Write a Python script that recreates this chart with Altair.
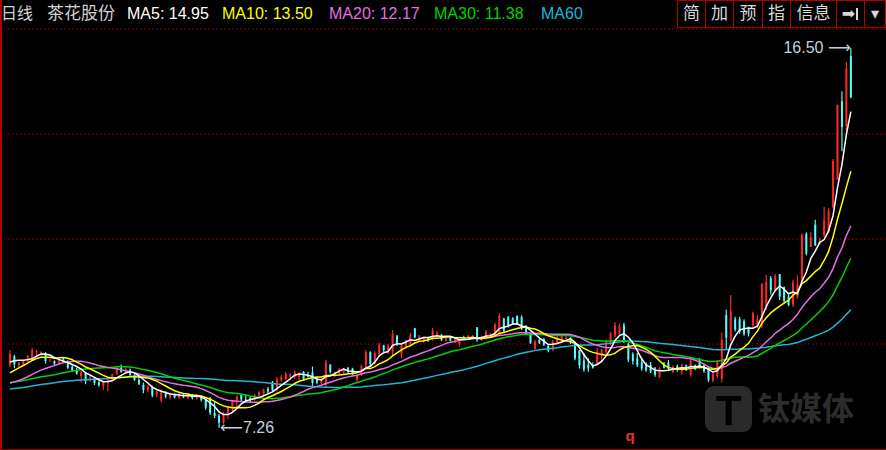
import altair as alt
import pandas as pd

# ---- daily bars for 茶花股份 (oldest first) ----
# closes of the sessions before the visible window, only used to seed the moving averages
warmup_close = [
    8.10, 8.05, 7.98, 7.95, 8.02, 8.08, 8.12, 8.06, 8.00, 7.96,
    7.92, 7.98, 8.04, 8.10, 8.15, 8.08, 8.02, 7.98, 8.00, 8.05,
    8.10, 8.12, 8.08, 8.04, 8.00, 8.02, 8.06, 8.10, 8.12, 8.14,
    8.20, 8.28, 8.35, 8.42, 8.48, 8.45, 8.40, 8.38, 8.42, 8.32,
    8.22, 8.15, 8.08, 8.02, 7.98, 8.05, 8.10, 8.12, 8.15, 8.13,
    8.18, 8.25, 8.30, 8.40, 8.52, 8.65, 8.78, 8.90, 8.91,
]

open_px = [
    8.78, 9.00, 8.78, 8.82, 8.88, 8.95, 9.10, 9.08, 9.08, 8.90,
    8.88, 8.84, 8.92, 8.88, 8.74, 8.66, 8.52, 8.60, 8.45, 8.46,
    8.36, 8.28, 8.35, 8.44, 8.58, 8.72, 8.65, 8.66, 8.54, 8.42,
    8.30, 8.18, 8.25, 8.06, 7.92, 8.10, 8.00, 8.08, 7.99, 8.06,
    8.00, 8.06, 7.98, 8.02, 7.95, 7.98, 7.62, 7.55, 7.38, 7.58,
    7.75, 7.90, 8.05, 7.95, 7.98, 7.94, 8.04, 8.10, 8.20, 8.36,
    8.18, 8.42, 8.44, 8.52, 8.50, 8.50, 8.62, 8.55, 8.60, 8.45,
    8.36, 8.30, 8.80, 8.55, 8.58, 8.62, 8.72, 8.70, 8.42, 8.55,
    8.78, 9.10, 8.85, 9.05, 9.26, 9.15, 9.10, 9.50, 9.05, 9.22,
    9.30, 9.68, 9.38, 9.40, 9.45, 9.40, 9.52, 9.52, 9.38, 9.48,
    9.34, 9.30, 9.45, 9.45, 9.42, 9.70, 9.40, 9.42, 9.50, 9.50,
    9.55, 9.92, 9.95, 9.92, 9.98, 9.95, 9.72, 9.55, 9.18, 9.40,
    9.42, 9.25, 9.15, 9.32, 9.40, 9.42, 9.45, 9.30, 9.15, 8.90,
    8.80, 8.78, 8.80, 9.00, 9.10, 9.30, 9.50, 9.55, 9.75, 9.30,
    9.05, 8.95, 8.85, 8.80, 8.78, 8.70, 8.50, 8.82, 8.85, 8.62,
    8.76, 8.62, 8.78, 8.55, 8.78, 8.90, 8.78, 8.72, 8.40, 8.52,
    8.45, 10.00, 9.40, 9.90, 9.90, 9.85, 9.70, 9.76, 9.72, 9.75,
    10.20, 10.90, 10.62, 11.00, 10.68, 10.45, 10.25, 10.45, 10.80, 11.98,
    11.66, 12.20, 11.75, 11.95, 12.02, 12.63, 13.30, 15.20, 14.60, 16.30,
]

high_px = [
    9.15, 9.03, 8.86, 8.91, 9.03, 9.20, 9.15, 9.12, 9.10, 8.95,
    8.90, 8.95, 8.96, 8.90, 8.78, 8.72, 8.65, 8.62, 8.52, 8.50,
    8.45, 8.40, 8.45, 8.58, 8.75, 8.80, 8.72, 8.70, 8.58, 8.48,
    8.36, 8.30, 8.28, 8.18, 8.20, 8.14, 8.12, 8.10, 8.12, 8.09,
    8.10, 8.08, 8.06, 8.04, 7.98, 8.01, 7.90, 7.60, 7.65, 7.78,
    7.92, 8.05, 8.10, 8.06, 8.02, 8.08, 8.15, 8.22, 8.25, 8.40,
    8.50, 8.55, 8.62, 8.60, 8.66, 8.62, 8.64, 8.62, 8.75, 8.50,
    8.48, 8.91, 8.80, 8.62, 8.72, 8.72, 8.74, 8.72, 8.55, 8.80,
    9.15, 9.12, 9.12, 9.32, 9.28, 9.30, 9.64, 9.52, 9.30, 9.40,
    9.57, 9.69, 9.52, 9.48, 9.47, 9.69, 9.60, 9.54, 9.50, 9.49,
    9.43, 9.43, 9.50, 9.52, 9.52, 9.71, 9.50, 9.64, 9.57, 9.81,
    10.04, 9.93, 9.98, 9.95, 10.00, 10.00, 9.76, 9.57, 9.40, 9.45,
    9.45, 9.30, 9.40, 9.50, 9.52, 9.50, 9.46, 9.32, 9.15, 9.08,
    8.95, 8.85, 9.20, 9.18, 9.40, 9.59, 9.83, 9.80, 9.81, 9.32,
    9.10, 9.08, 8.95, 8.85, 8.86, 8.74, 8.74, 8.86, 8.91, 8.78,
    8.80, 8.82, 8.80, 8.96, 8.80, 8.96, 8.82, 8.74, 8.62, 8.91,
    9.57, 10.13, 10.49, 9.96, 9.96, 9.90, 9.72, 10.08, 10.00, 10.78,
    10.98, 10.95, 11.00, 11.00, 10.70, 10.50, 10.86, 10.97, 11.99, 12.02,
    12.02, 12.32, 11.88, 12.63, 12.61, 13.80, 15.12, 15.45, 16.16, 16.50,
]

low_px = [
    8.74, 8.71, 8.74, 8.78, 8.84, 8.91, 8.98, 9.00, 8.82, 8.86,
    8.78, 8.80, 8.85, 8.69, 8.62, 8.55, 8.36, 8.32, 8.38, 8.30,
    8.26, 8.18, 8.15, 8.40, 8.55, 8.60, 8.58, 8.52, 8.40, 8.30,
    8.10, 8.12, 8.00, 8.00, 7.88, 7.98, 7.95, 7.97, 7.96, 7.98,
    7.96, 7.95, 7.94, 7.90, 7.70, 7.57, 7.50, 7.26, 7.35, 7.48,
    7.65, 7.75, 7.90, 7.88, 7.88, 7.92, 8.00, 8.06, 8.08, 8.14,
    8.15, 8.38, 8.42, 8.42, 8.45, 8.42, 8.40, 8.48, 8.28, 8.32,
    8.32, 8.25, 8.58, 8.48, 8.55, 8.55, 8.58, 8.55, 8.35, 8.52,
    8.74, 8.76, 8.80, 8.98, 9.10, 9.05, 9.03, 9.25, 8.95, 9.18,
    9.23, 9.44, 9.35, 9.33, 9.35, 9.38, 9.45, 9.37, 9.36, 9.36,
    9.33, 9.23, 9.40, 9.44, 9.40, 9.35, 9.38, 9.40, 9.48, 9.47,
    9.52, 9.57, 9.70, 9.78, 9.76, 9.64, 9.52, 9.30, 9.15, 9.30,
    9.25, 9.10, 9.12, 9.30, 9.38, 9.40, 9.30, 8.90, 8.70, 8.62,
    8.62, 8.70, 8.79, 8.88, 9.05, 9.27, 9.47, 9.50, 9.32, 8.86,
    8.80, 8.74, 8.65, 8.62, 8.59, 8.50, 8.47, 8.70, 8.66, 8.60,
    8.62, 8.55, 8.64, 8.50, 8.66, 8.70, 8.60, 8.37, 8.37, 8.47,
    8.37, 9.15, 9.35, 9.60, 9.55, 9.50, 9.48, 9.70, 9.68, 9.69,
    10.13, 10.50, 10.60, 10.37, 10.30, 10.22, 10.20, 10.40, 10.80, 11.46,
    11.66, 11.68, 11.72, 11.90, 12.00, 12.60, 13.29, 13.99, 14.50, 15.28,
]

close_px = [
    9.05, 8.80, 8.84, 8.90, 9.00, 9.15, 9.12, 9.10, 8.88, 8.90,
    8.82, 8.92, 8.88, 8.72, 8.65, 8.58, 8.62, 8.40, 8.47, 8.35,
    8.30, 8.38, 8.42, 8.56, 8.70, 8.62, 8.68, 8.55, 8.43, 8.33,
    8.18, 8.26, 8.05, 8.14, 8.12, 8.02, 8.08, 8.00, 8.07, 8.02,
    8.06, 7.98, 8.03, 7.94, 7.75, 7.62, 7.55, 7.38, 7.60, 7.75,
    7.90, 8.02, 7.95, 7.92, 7.93, 8.05, 8.12, 8.18, 8.14, 8.18,
    8.45, 8.50, 8.58, 8.55, 8.62, 8.58, 8.45, 8.50, 8.35, 8.36,
    8.45, 8.85, 8.62, 8.60, 8.68, 8.70, 8.62, 8.58, 8.52, 8.76,
    9.10, 8.82, 9.08, 9.28, 9.15, 9.25, 9.55, 9.30, 9.25, 9.38,
    9.52, 9.46, 9.48, 9.45, 9.38, 9.62, 9.56, 9.40, 9.46, 9.38,
    9.40, 9.38, 9.42, 9.50, 9.49, 9.40, 9.46, 9.60, 9.55, 9.78,
    9.98, 9.62, 9.75, 9.80, 9.80, 9.68, 9.55, 9.32, 9.36, 9.32,
    9.28, 9.14, 9.36, 9.45, 9.50, 9.46, 9.34, 8.95, 8.78, 8.68,
    8.70, 8.72, 9.12, 9.15, 9.35, 9.55, 9.75, 9.72, 9.38, 8.92,
    8.88, 8.78, 8.70, 8.66, 8.62, 8.55, 8.70, 8.72, 8.70, 8.74,
    8.66, 8.78, 8.68, 8.90, 8.70, 8.74, 8.64, 8.42, 8.58, 8.85,
    9.40, 9.45, 10.10, 9.65, 9.60, 9.55, 9.55, 10.05, 9.90, 10.75,
    10.80, 10.60, 10.95, 10.45, 10.35, 10.25, 10.80, 10.75, 11.95, 11.50,
    11.90, 11.70, 11.80, 12.30, 12.55, 13.75, 15.12, 14.58, 16.00, 15.30,
]

ma_windows = [5, 10, 20, 30, 60]
ma_colors = ["#FFFFFF", "#FFFF00", "#E36FE3", "#00D200", "#1DB6D9"]

UP_RED = "#FF2626"
DOWN_CYAN = "#54FCFC"
LABEL_GREY = "#C4CFDB"
FRAME_RED = "#B00000"
FONT = "Liberation Sans, Noto Sans CJK SC, DejaVu Sans, sans-serif"
CJK_FONT = "Noto Sans CJK SC, Liberation Sans, sans-serif"

W, H = 886, 450

# ---- table of bars with moving averages ----
n = len(close_px)
history = pd.Series(warmup_close + close_px)
df = pd.DataFrame({"i": range(n), "o": open_px, "h": high_px, "l": low_px, "c": close_px})
df["dir"] = ["up" if c >= o else "down" for o, c in zip(open_px, close_px)]
for w in ma_windows:
    df[f"ma{w}"] = history.rolling(w).mean().iloc[len(warmup_close):].to_numpy()

# ---- scales: bars are 4.5 px apart, price runs 41.1 px per yuan ----
x_scale = alt.Scale(domain=[-1.1111, 195.7778], nice=False, zero=False)
y_scale = alt.Scale(domain=[6.719, 17.668], nice=False, zero=False)
X = alt.X("i:Q", scale=x_scale, axis=None)
dir_color = alt.Color("dir:N", scale=alt.Scale(domain=["up", "down"], range=[UP_RED, DOWN_CYAN]), legend=None)

base = alt.Chart(df)
layers = []

# dotted price grid: four equal bands between the panel's top and bottom prices
panel_top, panel_bottom = 16.962, 6.743
grid = pd.DataFrame({"p": [panel_bottom + k * (panel_top - panel_bottom) / 4 for k in (1, 2, 3, 4)]})
layers.append(
    alt.Chart(grid).mark_rule(color=FRAME_RED, strokeDash=[1.5, 2.5], strokeWidth=1).encode(
        y=alt.Y("p:Q", scale=y_scale, axis=None), x=alt.value(0), x2=alt.value(W)
    )
)

# candles: wick plus a narrow body
layers.append(base.mark_rule(strokeWidth=1.2).encode(x=X, y=alt.Y("l:Q", scale=y_scale, axis=None), y2="h:Q", color=dir_color))
layers.append(base.mark_bar(size=2).encode(x=X, y=alt.Y("o:Q", scale=y_scale, axis=None), y2="c:Q", color=dir_color))

# moving averages, slowest underneath
for w, col in reversed(list(zip(ma_windows, ma_colors))):
    layers.append(base.mark_line(color=col, strokeWidth=1.5).encode(x=X, y=alt.Y(f"ma{w}:Q", scale=y_scale, axis=None)))

# highest high / lowest low markers
hi_row = df.loc[[df["h"].idxmax()]].assign(t=lambda d: d["h"].map(lambda v: f"{v:.2f} ⟶"))
lo_row = df.loc[[df["l"].idxmin()]].assign(t=lambda d: d["l"].map(lambda v: f"⟵{v:.2f}"))
layers.append(
    alt.Chart(hi_row).mark_text(align="right", baseline="middle", dx=0, fontSize=16, font=FONT, color=LABEL_GREY).encode(
        x=X, y=alt.Y("h:Q", scale=y_scale, axis=None), text="t:N"
    )
)
layers.append(
    alt.Chart(lo_row).mark_text(align="left", baseline="middle", dx=1, fontSize=16, font=FONT, color=LABEL_GREY).encode(
        x=X, y=alt.Y("l:Q", scale=y_scale, axis=None), text="t:N"
    )
)

# ---- header line: period, stock name and latest MA readings ----
last = df.iloc[-1]
header = [
    ("日线", "#D2D2D2", 1, CJK_FONT, 16),
    ("茶花股份", "#D2D2D2", 47, CJK_FONT, 17),
    (f"MA5: {last['ma5']:.2f}", ma_colors[0], 127, FONT, 16),
    (f"MA10: {last['ma10']:.2f}", ma_colors[1], 222, FONT, 16),
    (f"MA20: {last['ma20']:.2f}", ma_colors[2], 329, FONT, 16),
    (f"MA30: {last['ma30']:.2f}", ma_colors[3], 434, FONT, 16),
    ("MA60", ma_colors[4], 541, FONT, 16),
]
for label, col, xpx, fnt, fs in header:
    layers.append(
        alt.Chart(pd.DataFrame({"t": [label]})).mark_text(
            align="left", baseline="middle", fontSize=fs, font=fnt, color=col
        ).encode(x=alt.value(xpx), y=alt.value(14), text="t:N")
    )

# toolbar buttons at the top right
buttons = ["简", "加", "预", "指", "信息", "➡", "▾"]
edges = [677, 705, 733, 762, 790, 836, 864, 885]
for k, label in enumerate(buttons):
    x0, x1 = edges[k], edges[k + 1]
    layers.append(
        alt.Chart(pd.DataFrame({"t": [label]})).mark_rect(fill="black", stroke=FRAME_RED, strokeWidth=1).encode(
            x=alt.value(x0 + 0.5), x2=alt.value(x1 + 0.5), y=alt.value(0.5), y2=alt.value(27.5)
        )
    )
    layers.append(
        alt.Chart(pd.DataFrame({"t": [label]})).mark_text(
            align="center", baseline="middle", fontSize=17 if k < 5 else 16,
            font=CJK_FONT if k < 5 else "DejaVu Sans", color="#D8D8D8",
            dx=-2 if k == 5 else 0,
        ).encode(x=alt.value((x0 + x1) / 2 + 0.5), y=alt.value(14), text="t:N")
    )
# bar closing the arrow-to-end button
layers.append(alt.Chart(pd.DataFrame({"t": ["bar"]})).mark_rule(color="#D8D8D8", strokeWidth=2).encode(
    x=alt.value(857), y=alt.value(8), y2=alt.value(20)))

# panel frame: left and bottom edges
frame = pd.DataFrame({"t": ["frame"]})
layers.append(alt.Chart(frame).mark_rule(color=FRAME_RED, strokeWidth=2).encode(
    x=alt.value(1), y=alt.value(0), y2=alt.value(H)))
layers.append(alt.Chart(frame).mark_rule(color="#8A0000", strokeWidth=1).encode(
    x=alt.value(0), x2=alt.value(W), y=alt.value(449.5)))

# small red marker under the chart
layers.append(alt.Chart(pd.DataFrame({"t": ["q"]})).mark_text(
    align="center", baseline="middle", fontSize=15, fontWeight="bold", font=FONT, color="#E83030"
).encode(x=alt.value(630), y=alt.value(436), text="t:N"))

# publisher watermark
layers.append(alt.Chart(pd.DataFrame({"t": ["logo"]})).mark_rect(fill="#2A2A2A", cornerRadius=9).encode(
    x=alt.value(705), x2=alt.value(752), y=alt.value(386), y2=alt.value(432)))
layers.append(alt.Chart(pd.DataFrame({"t": ["T"]})).mark_text(
    align="center", baseline="middle", fontSize=42, fontWeight="bold", font=FONT, color="#000000"
).encode(x=alt.value(728.5), y=alt.value(412), text="t:N"))
layers.append(alt.Chart(pd.DataFrame({"t": ["钛媒体"]})).mark_text(
    align="left", baseline="middle", fontSize=32, fontWeight="bold", font=CJK_FONT, color="#2C2C2C"
).encode(x=alt.value(758), y=alt.value(410), text="t:N"))

chart = alt.layer(*layers).properties(
    width=W, height=H, background="black", padding=0,
    autosize=alt.AutoSizeParams(type="none"),
).configure_view(stroke=None, fill="black")

chart.save("out.html", embed_options={"renderer": "svg", "actions": False})
